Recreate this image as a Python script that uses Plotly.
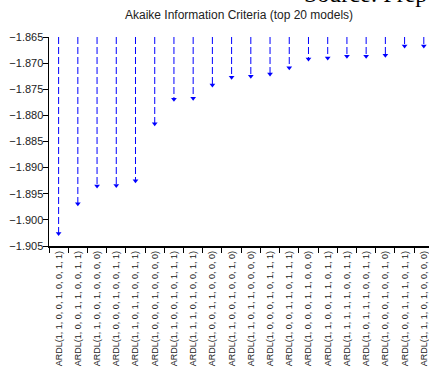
import plotly.graph_objects as go

models = [
    "ARDL(1, 1, 0, 0, 1, 0, 0, 1, 1)",
    "ARDL(1, 0, 0, 1, 1, 0, 0, 1, 1)",
    "ARDL(1, 1, 0, 0, 1, 0, 0, 0, 0)",
    "ARDL(1, 0, 0, 0, 1, 0, 0, 1, 1)",
    "ARDL(1, 1, 0, 1, 1, 0, 0, 1, 1)",
    "ARDL(1, 0, 0, 0, 1, 0, 0, 0, 0)",
    "ARDL(1, 1, 0, 0, 1, 0, 1, 1, 1)",
    "ARDL(1, 1, 1, 0, 1, 0, 0, 1, 1)",
    "ARDL(1, 0, 0, 1, 1, 0, 0, 0, 0)",
    "ARDL(1, 1, 0, 0, 1, 0, 0, 1, 0)",
    "ARDL(1, 1, 0, 1, 1, 0, 0, 0, 0)",
    "ARDL(1, 0, 0, 0, 1, 0, 1, 1, 1)",
    "ARDL(1, 0, 0, 1, 1, 0, 1, 1, 1)",
    "ARDL(1, 0, 0, 0, 1, 1, 0, 0, 0)",
    "ARDL(1, 1, 0, 0, 1, 1, 0, 1, 1)",
    "ARDL(1, 1, 1, 1, 1, 0, 0, 1, 1)",
    "ARDL(1, 0, 1, 1, 1, 0, 0, 1, 1)",
    "ARDL(1, 0, 0, 0, 1, 0, 0, 1, 0)",
    "ARDL(1, 0, 0, 1, 1, 1, 0, 1, 1)",
    "ARDL(1, 1, 1, 0, 1, 0, 0, 0, 0)",
]
aic = [-1.9026, -1.8969, -1.8935, -1.8934, -1.8925, -1.8816, -1.8769, -1.8767,
       -1.8742, -1.8727, -1.8725, -1.8721, -1.8709, -1.8692, -1.8690, -1.8687,
       -1.8687, -1.8685, -1.8667, -1.8667]
y_top = -1.865
y_bottom = -1.905
y_ticks = [-1.865, -1.870, -1.875, -1.880, -1.885, -1.890, -1.895, -1.900, -1.905]

BLUE = "#0000FF"
FONT = "Liberation Sans, Arial, sans-serif"

# build dropline coordinates from data
sx, sy = [], []
for m, v in zip(models, aic):
    sx += [m, m, None]
    sy += [y_top, v, None]

fig = go.Figure()
fig.add_trace(go.Scatter(
    x=sx, y=sy, mode="lines",
    line=dict(color=BLUE, width=1, dash="7px,3px"),
    hoverinfo="skip", showlegend=False,
))
fig.add_trace(go.Scatter(
    x=models, y=aic, mode="markers",
    marker=dict(symbol="triangle-down", size=5, color=BLUE),
    hoverinfo="skip", showlegend=False,
))

fig.update_layout(
    width=429, height=378,
    margin=dict(l=49, r=0, t=37, b=132, autoexpand=False),
    paper_bgcolor="white", plot_bgcolor="white",
    hovermode=False, dragmode=False,
    font=dict(family=FONT, color="#222222"),
    title=dict(text="Akaike Information Criteria (top 20 models)",
               xref="container", x=239 / 429, xanchor="center",
               yref="container", y=1 - 15 / 378, yanchor="middle",
               font=dict(size=12, family=FONT, color="#222222")),
    annotations=[dict(
        text="Source: Prep", xref="paper", yref="paper",
        x=(302 - 49) / 380, xanchor="left", y=1 + (37 + 6.5) / 209, yanchor="middle",
        showarrow=False,
        font=dict(family="Liberation Serif, Times New Roman, serif", size=24, color="black"),
    )],
)
fig.update_xaxes(
    type="category", categoryorder="array", categoryarray=models,
    range=[-0.5, 19.27], tickson="boundaries", automargin=False,
    ticks="outside", ticklen=5, tickcolor="black", tickwidth=1,
    showline=True, linecolor="black", linewidth=1.5, showgrid=False,
    tickangle=-90, tickfont=dict(size=9, family=FONT, color="#222222"),
    zeroline=False, fixedrange=True,
)
fig.update_yaxes(
    range=[y_bottom, y_top], tickvals=y_ticks, tickformat=".3f", automargin=False,
    ticks="outside", ticklen=5, tickcolor="black", tickwidth=1,
    showline=True, linecolor="black", linewidth=1.5, showgrid=False,
    tickfont=dict(size=11, family=FONT, color="#222222"), zeroline=False,
    ticklabelstandoff=-3, fixedrange=True,
)

fig.write_html("out.html", config={"displayModeBar": False, "staticPlot": True},
               post_script="document.body.style.margin='0px';")
